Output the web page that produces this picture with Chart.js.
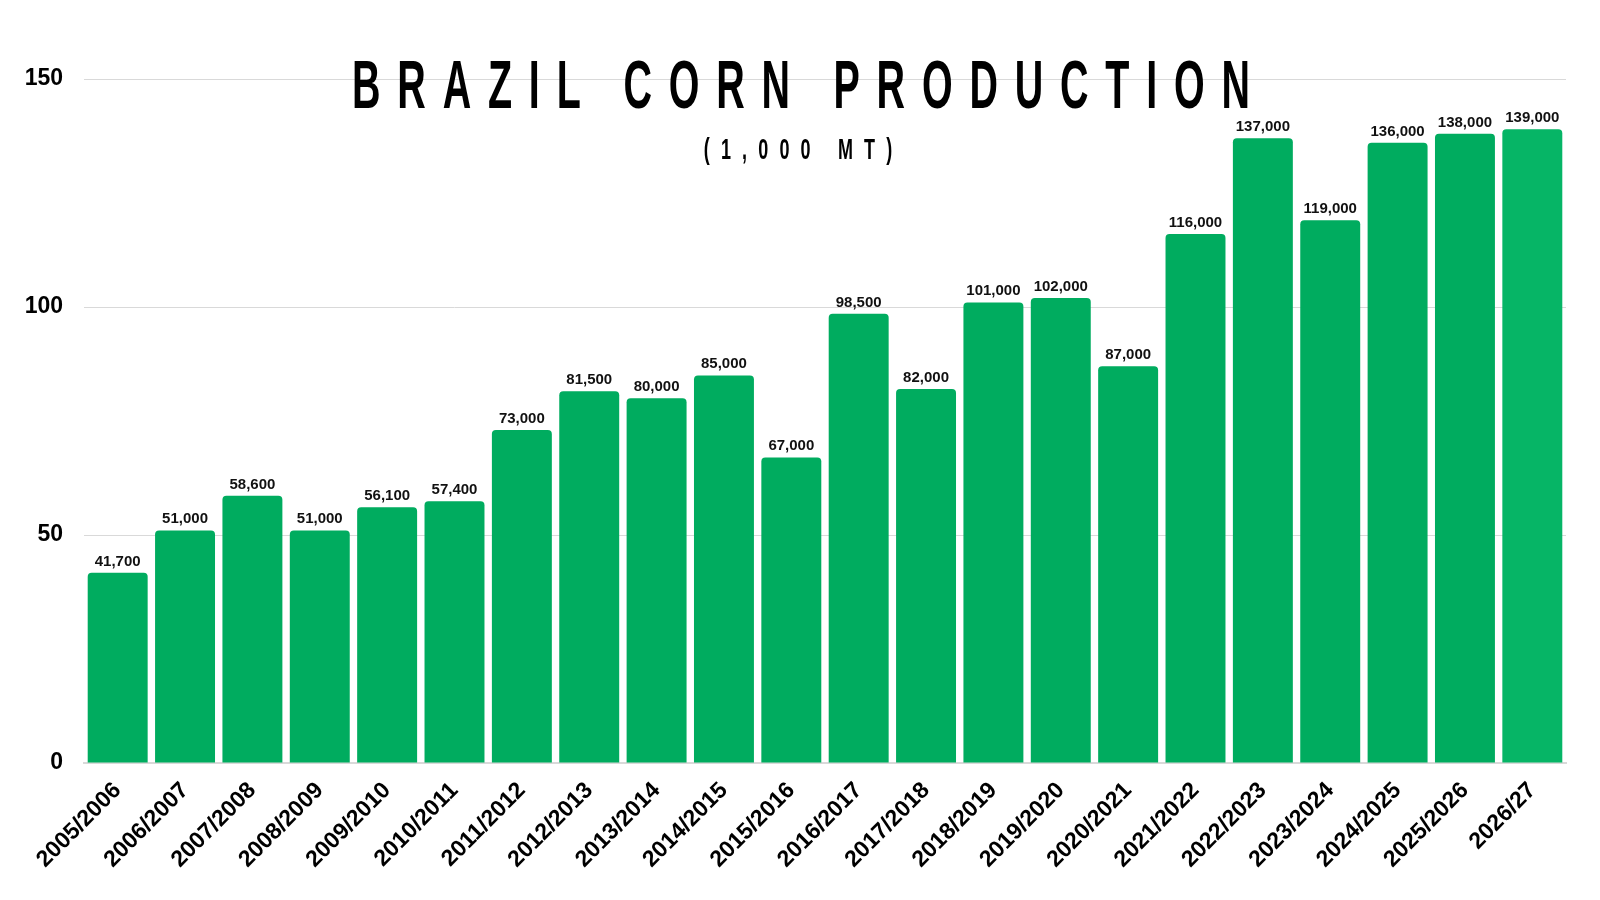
<!DOCTYPE html>
<html>
<head>
<meta charset="utf-8">
<script src="https://cdn.jsdelivr.net/npm/chart.js@4"></script>
<style>
html,body{margin:0;padding:0;background:#fff;}
#wrap{position:relative;width:1600px;height:900px;}
#chart{position:absolute;left:0;top:0;}
.ttl{position:absolute;white-space:nowrap;font-family:"Liberation Sans Narrow","Liberation Sans",Arial,sans-serif;font-weight:bold;color:#000;transform-origin:50% 0;}
#title{left:801px;top:50px;font-size:68px;line-height:68px;letter-spacing:29px;word-spacing:-2px;padding-left:29px;transform:translateX(-50%) scaleX(0.58);}
#sub{left:798px;top:135px;font-size:29px;line-height:29px;letter-spacing:18px;padding-left:18px;transform:translateX(-50%) scaleX(0.62);}
</style>
</head>
<body>
<div id="wrap">
<canvas id="chart" width="1600" height="900"></canvas>
<div id="title" class="ttl">BRAZIL CORN PRODUCTION</div>
<div id="sub" class="ttl">(1,000 MT)</div>
</div>
<script>
// marketing years
const seasons = ['2005/2006','2006/2007','2007/2008','2008/2009','2009/2010','2010/2011','2011/2012','2012/2013','2013/2014','2014/2015','2015/2016','2016/2017','2017/2018','2018/2019','2019/2020','2020/2021','2021/2022','2022/2023','2023/2024','2024/2025','2025/2026','2026/27'];
// production, 1,000 MT
const production = [41700,51000,58600,51000,56100,57400,73000,81500,80000,85000,67000,98500,82000,101000,102000,87000,116000,137000,119000,136000,138000,139000];
const yTicks = [0,50000,100000,150000];

// last season (projection) is a touch lighter
const barColors = seasons.map((s,i)=> i===seasons.length-1 ? '#06B566' : '#00AC5F');

// value labels above bars
const valueLabels = {
  id:'valueLabels',
  afterDatasetsDraw(chart){
    const ctx = chart.ctx;
    const meta = chart.getDatasetMeta(0);
    ctx.save();
    ctx.font = 'bold 15px "Liberation Sans", Arial, sans-serif';
    ctx.fillStyle = '#111';
    ctx.textAlign = 'center';
    ctx.textBaseline = 'alphabetic';
    meta.data.forEach((bar,i)=>{
      ctx.fillText(production[i].toLocaleString('en-US'), bar.x, bar.y - 7);
    });
    ctx.restore();
  }
};

const ctx = document.getElementById('chart').getContext('2d');
new Chart(ctx, {
  type:'bar',
  data:{labels:seasons, datasets:[{data:production, backgroundColor:barColors, borderRadius:{topLeft:4,topRight:4}, borderSkipped:'bottom', barPercentage:0.89, categoryPercentage:1}]},
  options:{
    responsive:false, animation:false,
    layout:{padding:{top:79,right:34,left:0,bottom:0}},
    plugins:{legend:{display:false}, tooltip:{enabled:false}},
    scales:{
      x:{
        grid:{display:false},
        border:{display:true,color:'#D9D9D9',width:2},
        ticks:{color:'#000',font:{family:'"Liberation Sans", Arial, sans-serif',size:23,weight:'bold'},minRotation:45,maxRotation:45,padding:6},
        afterFit(s){ s.height = 137; }
      },
      y:{
        min:0,max:150000,
        afterBuildTicks(s){ s.ticks = yTicks.map(v=>({value:v})); },
        grid:{color:'#D9D9D9',drawTicks:false,lineWidth:1},
        border:{display:false},
        ticks:{color:'#000',padding:21,font:{family:'"Liberation Sans", Arial, sans-serif',size:23,weight:'bold'},callback:v=>v/1000},
        afterFit(s){ s.width = 84; }
      }
    }
  },
  plugins:[valueLabels]
});
</script>
</body>
</html>
